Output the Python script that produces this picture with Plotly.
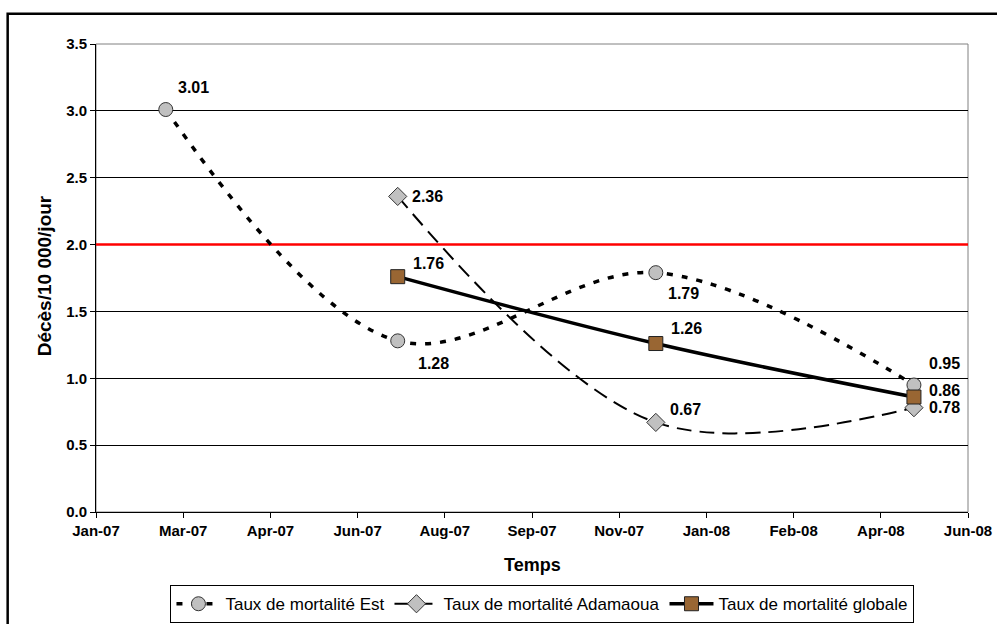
import plotly.graph_objects as go
import pandas as pd

# ---------------- data ----------------
est_dates = ["2007-02-27", "2007-07-10", "2007-12-05", "2008-05-01"]
est_values = [3.01, 1.28, 1.79, 0.95]

ada_dates = ["2007-07-10", "2007-12-05", "2008-05-01"]
ada_values = [2.36, 0.67, 0.78]

glob_dates = ["2007-07-10", "2007-12-05", "2008-05-01"]
glob_values = [1.76, 1.26, 0.86]

threshold = 2.0

x_tick_labels = ["Jan-07", "Mar-07", "Apr-07", "Jun-07", "Aug-07", "Sep-07",
                 "Nov-07", "Jan-08", "Feb-08", "Apr-08", "Jun-08"]
y_tick_values = [0.0, 0.5, 1.0, 1.5, 2.0, 2.5, 3.0, 3.5]

series_names = ["Taux de mortalité Est", "Taux de mortalité Adamaoua",
                "Taux de mortalité globale"]

# ---------------- styling ----------------
FONT = "Arial, Liberation Sans, sans-serif"
tick_positions = pd.date_range("2007-01-18", periods=len(x_tick_labels), freq="50D")

# label offsets (px) for data labels: (xshift, yshift)
est_offsets = [(10, 22), (18, -23), (10, -21), (13, 21)]
ada_offsets = [(12, 0), (12, 13), (13, 0)]
glob_offsets = [(13, 13), (13, 15), (13, 7)]

fig = go.Figure()

# threshold reference line (drawn first: above gridlines, below series)
fig.add_trace(go.Scatter(
    x=[tick_positions[0], tick_positions[-1]], y=[threshold, threshold],
    mode="lines", line=dict(color="#FF0000", width=2.5),
    showlegend=False, hoverinfo="skip",
))

fig.add_trace(go.Scatter(
    x=est_dates, y=est_values, name=series_names[0], mode="lines+markers",
    line=dict(color="black", width=3.5, dash="6px,9px", shape="spline", smoothing=1),
    marker=dict(symbol="circle", size=14, color="#C0C0C0",
                line=dict(color="#333333", width=1)),
))
fig.add_trace(go.Scatter(
    x=ada_dates, y=ada_values, name=series_names[1], mode="lines+markers",
    line=dict(color="black", width=2, dash="15px,8px", shape="spline", smoothing=1),
    marker=dict(symbol="diamond", size=14, color="#C0C0C0",
                line=dict(color="#333333", width=1)),
))
fig.add_trace(go.Scatter(
    x=glob_dates, y=glob_values, name=series_names[2], mode="lines+markers",
    line=dict(color="black", width=3.5, shape="spline", smoothing=1),
    marker=dict(symbol="square", size=14, color="#996633",
                line=dict(color="#222222", width=1)),
))

annotations = []
for dates, vals, offs in [(est_dates, est_values, est_offsets),
                          (ada_dates, ada_values, ada_offsets),
                          (glob_dates, glob_values, glob_offsets)]:
    for d, v, (dx, dy) in zip(dates, vals, offs):
        annotations.append(dict(
            x=d, y=v, xref="x", yref="y", text=f"{v:.2f}", showarrow=False,
            xanchor="left", yanchor="middle", xshift=dx, yshift=dy,
            font=dict(family=FONT, size=16, color="black", weight="bold"),
        ))

annotations.append(dict(
    x=0.5008, y=-0.1126, xref="paper", yref="paper", text="<b>Temps</b>",
    showarrow=False, xanchor="center", yanchor="middle",
    font=dict(family=FONT, size=18, color="black"),
))
annotations.append(dict(
    x=-0.0589, y=0.505, xref="paper", yref="paper", text="<b>Décès/10 000/jour</b>",
    showarrow=False, xanchor="center", yanchor="middle", textangle=-90,
    font=dict(family=FONT, size=19, color="black"),
))

shapes = [
    # plot area border (gray)
    dict(type="rect", xref="paper", yref="paper", x0=0, x1=1, y0=0, y1=1,
         line=dict(color="#808080", width=1), layer="below"),
    # outer chart frame
    dict(type="rect", xref="paper", yref="paper", x0=-0.1013, x1=1.06, y0=-0.27, y1=1.0647,
         line=dict(color="black", width=2.5), layer="above"),
]

fig.update_layout(
    width=997, height=624,
    margin=dict(l=96, r=29, t=44, b=112, autoexpand=False),
    paper_bgcolor="white", plot_bgcolor="white",
    font=dict(family=FONT, color="black"),
    showlegend=True,
    legend=dict(
        orientation="h", x=0.512, xanchor="center", y=-0.197, yanchor="middle",
        bordercolor="black", borderwidth=1, bgcolor="white",
        font=dict(family=FONT, size=17, color="black"),
        itemwidth=44,
    ),
    annotations=annotations,
    shapes=shapes,
)

fig.update_xaxes(
    type="date", range=[tick_positions[0], tick_positions[-1]],
    tickmode="array", tickvals=list(tick_positions), ticktext=x_tick_labels,
    ticks="outside", ticklen=5, tickcolor="black",
    showline=True, linecolor="black", linewidth=1,
    showgrid=False, zeroline=False, automargin=False,
    tickfont=dict(family=FONT, size=15, color="black", weight="bold"),
)
fig.update_yaxes(
    range=[0, 3.5], tickmode="array", tickvals=y_tick_values,
    ticktext=[f"{v:.1f}" for v in y_tick_values],
    ticks="outside", ticklen=5, tickcolor="black",
    showline=True, linecolor="black", linewidth=1,
    showgrid=True, gridcolor="black", gridwidth=1, zeroline=False, automargin=False,
    tickfont=dict(family=FONT, size=15, color="black", weight="bold"),
)

fig.write_html("out.html")
